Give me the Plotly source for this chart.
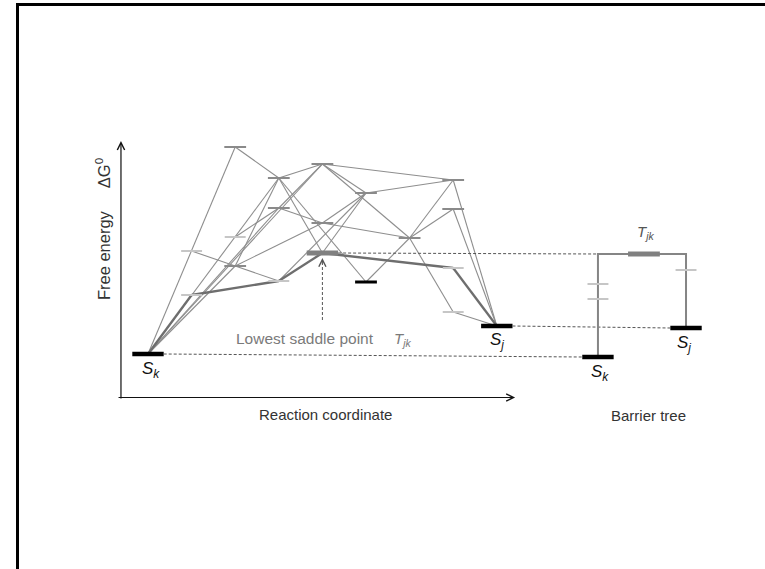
import plotly.graph_objects as go

# ---- data: states on the energy landscape ----
# reaction-coordinate column and free energy (arbitrary units)
node_names = ["Sk", "A1", "A2", "T", "B1", "B2", "C1", "C2", "C3", "D1",
              "D2", "SP", "E1", "E2", "F1", "G1", "G2", "G3", "G4", "Sj"]
node_rc = [0, 1, 1, 2, 2, 2, 3, 3, 3, 4, 4, 4, 5, 5, 6, 7, 7, 7, 7, 8]
node_dG = [4.4, 14.7, 10.3, 25.1, 16.1, 13.2, 22.0, 19.0, 11.7, 23.4,
           17.5, 14.5, 20.5, 11.6, 16.0, 21.8, 18.9, 13.0, 8.6, 7.2]
node_kind = ["min", "light", "light", "mid", "light", "mid", "mid", "mid", "light", "mid",
             "mid", "saddle", "mid", "min2", "mid", "mid", "mid", "light", "light", "min"]

edges = [("Sk", "T"), ("Sk", "C1"), ("Sk", "C2"), ("Sk", "D1"), ("Sk", "B2"),
         ("A1", "B2"), ("B2", "C3"), ("B1", "C2"), ("B2", "D2"), ("B2", "C1"),
         ("T", "C1"), ("C1", "D1"), ("C1", "E2"), ("C2", "D1"), ("C2", "D2"),
         ("D1", "G1"), ("D1", "E1"), ("D1", "F1"), ("D2", "E1"), ("D2", "F1"),
         ("E1", "G1"), ("E1", "C3"), ("SP", "C1"), ("SP", "E1"),
         ("E2", "F1"), ("F1", "G1"), ("F1", "G2"), ("F1", "G4"),
         ("G1", "Sj"), ("G2", "Sj"), ("G4", "Sj")]
path_edges = [("Sk", "A2"), ("A2", "C3"), ("C3", "SP"), ("SP", "G3"), ("G3", "Sj")]

# barrier tree
tree_left_rc = 10.32
tree_right_rc = 12.34
tree_left_ticks = [11.4, 9.9]
tree_right_ticks = [12.8]

idx = {n: i for i, n in enumerate(node_names)}

fig = go.Figure()

def seg_trace(pairs, color, width):
    xs, ys = [], []
    for a, b in pairs:
        xs += [node_rc[idx[a]], node_rc[idx[b]], None]
        ys += [node_dG[idx[a]], node_dG[idx[b]], None]
    return go.Scatter(x=xs, y=ys, mode="lines", line=dict(color=color, width=width),
                      hoverinfo="skip", showlegend=False)

fig.add_trace(seg_trace(edges, "#8e8e8e", 1.1))
fig.add_trace(seg_trace(path_edges, "#6e6e6e", 2.3))

styles = {
    "light": dict(color="#c6c6c6", width=2, hw=0.24),
    "mid": dict(color="#8a8a8a", width=2, hw=0.25),
    "saddle": dict(color="#808080", width=5, hw=0.36),
    "min": dict(color="#000000", width=4.5, hw=0.36),
    "min2": dict(color="#000000", width=3, hw=0.25),
}
for kind, st in styles.items():
    xs, ys = [], []
    for i, k in enumerate(node_kind):
        if k == kind:
            xs += [node_rc[i] - st["hw"], node_rc[i] + st["hw"], None]
            ys += [node_dG[i], node_dG[i], None]
    fig.add_trace(go.Scatter(x=xs, y=ys, mode="lines",
                             line=dict(color=st["color"], width=st["width"]),
                             hoverinfo="skip", showlegend=False))

sk, sj, sp = idx["Sk"], idx["Sj"], idx["SP"]
dash = dict(color="#555555", width=1, dash="3px,2px")
# dashed connectors to barrier tree
fig.add_trace(go.Scatter(
    x=[node_rc[sk] + 0.36, tree_left_rc - 0.36, None,
       node_rc[sp] + 0.36, tree_left_rc, None,
       node_rc[sj] + 0.36, tree_right_rc - 0.36],
    y=[node_dG[sk], node_dG[sk] - 0.3, None,
       node_dG[sp], node_dG[sp] - 0.1, None,
       node_dG[sj], node_dG[sj] - 0.2],
    mode="lines", line=dash, hoverinfo="skip", showlegend=False))

# barrier tree
top = node_dG[sp] - 0.1
fig.add_trace(go.Scatter(
    x=[tree_left_rc, tree_left_rc, tree_right_rc, tree_right_rc],
    y=[node_dG[sk] - 0.3, top, top, node_dG[sj] - 0.2],
    mode="lines", line=dict(color="#858585", width=2), hoverinfo="skip", showlegend=False))
tx, ty = [], []
for t in tree_left_ticks:
    tx += [tree_left_rc - 0.24, tree_left_rc + 0.24, None]; ty += [t, t, None]
for t in tree_right_ticks:
    tx += [tree_right_rc - 0.24, tree_right_rc + 0.24, None]; ty += [t, t, None]
fig.add_trace(go.Scatter(x=tx, y=ty, mode="lines", line=dict(color="#c6c6c6", width=2),
                         hoverinfo="skip", showlegend=False))
fig.add_trace(go.Scatter(x=[11.01, 11.74], y=[top, top], mode="lines",
                         line=dict(color="#808080", width=5), hoverinfo="skip", showlegend=False))
fig.add_trace(go.Scatter(
    x=[tree_left_rc - 0.36, tree_left_rc + 0.36, None, tree_right_rc - 0.36, tree_right_rc + 0.36],
    y=[node_dG[sk] - 0.3, node_dG[sk] - 0.3, None, node_dG[sj] - 0.2, node_dG[sj] - 0.2],
    mode="lines", line=dict(color="#000000", width=4.5), hoverinfo="skip", showlegend=False))

# saddle arrow shaft (dashed)
fig.add_trace(go.Scatter(x=[node_rc[sp], node_rc[sp]], y=[7.8, 13.5], mode="lines",
                         line=dict(color="#555555", width=1, dash="3px,2px"),
                         hoverinfo="skip", showlegend=False))

FONT = "Liberation Sans, Arial, sans-serif"
ann = []
def arrow(x, y, ax, ay, color="#111111", w=1.2, head=5, size=1.2):
    ann.append(dict(x=x, y=y, ax=ax, ay=ay, xref="x", yref="y", axref="x", ayref="y",
                    text="", showarrow=True, arrowhead=head, arrowsize=size,
                    arrowwidth=w, arrowcolor=color))
arrow(-0.62, 25.7, -0.62, -0.2)
arrow(8.42, 0.05, -0.71, 0.05)
arrow(node_rc[sp], 14.0, node_rc[sp], 13.3, color="#555555", w=1, size=1.4)

def label(x, y, text, size=14, color="#222222", angle=0):
    ann.append(dict(x=x, y=y, xref="x", yref="y", text=text, showarrow=False,
                    textangle=angle, font=dict(family=FONT, size=size, color=color)))
label(-1.03, 16.9, "Free energy&nbsp;&nbsp;&nbsp;&nbsp;&nbsp;ΔG<sup>0</sup>", 16.5, "#333333", -90)
label(3.60, 6.0, "Lowest saddle point", 15.5, "#7a7a7a")
label(5.85, 5.9, "<i>T<sub>jk</sub></i>", 15, "#7a7a7a")
label(0.06, 2.85, "<i>S<sub>k</sub></i>", 17, "#111111")
label(8.0, 5.75, "<i>S<sub>j</sub></i>", 17, "#111111")
label(4.08, -1.6, "Reaction coordinate", 15, "#333333")
label(11.47, -1.7, "Barrier tree", 15, "#333333")
label(11.42, 16.6, "<i>T<sub>jk</sub></i>", 15, "#555555")
label(12.29, 5.45, "<i>S<sub>j</sub></i>", 17, "#111111")
label(10.37, 2.55, "<i>S<sub>k</sub></i>", 17, "#111111")

shapes = [
    dict(type="line", xref="paper", yref="paper", x0=17.5 / 765, x1=17.5 / 765,
         y0=0, y1=1 - 4.5 / 569, line=dict(color="#000000", width=3)),
    dict(type="line", xref="paper", yref="paper", x0=16 / 765, x1=1,
         y0=1 - 4.5 / 569, y1=1 - 4.5 / 569, line=dict(color="#000000", width=3)),
]

fig.update_layout(
    width=765, height=569, margin=dict(l=0, r=0, t=0, b=0),
    paper_bgcolor="white", plot_bgcolor="white",
    xaxis=dict(range=[(0 - 148) / 43.6, (765 - 148) / 43.6], visible=False, fixedrange=True),
    yaxis=dict(range=[(398 - 569) / 10, 398 / 10], visible=False, fixedrange=True),
    annotations=ann, shapes=shapes, showlegend=False,
)
fig.write_html("out.html", config={"displayModeBar": False},
               post_script="document.body.style.margin='0';document.body.style.overflow='hidden';")
